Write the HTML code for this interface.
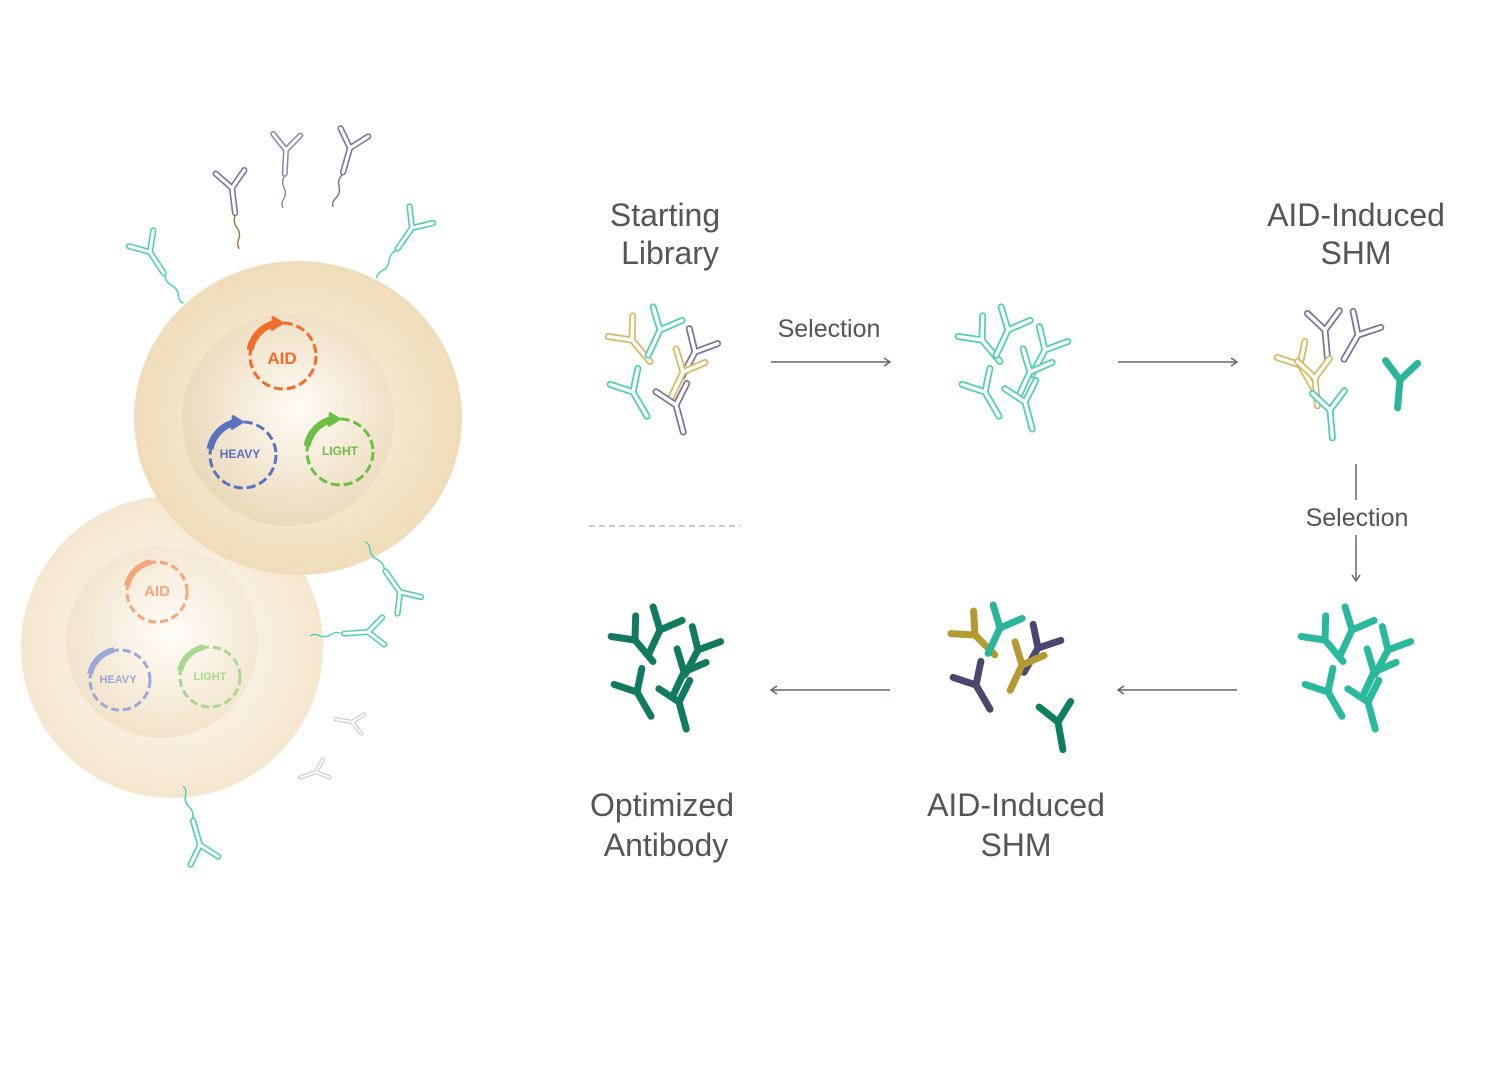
<!DOCTYPE html>
<html><head><meta charset="utf-8"><style>
html,body{margin:0;padding:0;background:#fff;}
svg{display:block;}
text{font-family:"Liberation Sans","DejaVu Sans",sans-serif;}
</style></head><body>
<svg width="1500" height="1085" viewBox="0 0 1500 1085" xmlns="http://www.w3.org/2000/svg">
<defs>
<path id="y" d="M0,0 L-16,-18 M0,0 L16,-18 M0,0 L0,28" fill="none" stroke-linecap="round"/>
<radialGradient id="cellG" cx="0.5" cy="0.5" r="0.5">
<stop offset="0.6" stop-color="#f5e6cc"/><stop offset="1" stop-color="#f0dcb9"/></radialGradient>
<radialGradient id="nucG" cx="0.55" cy="0.45" r="0.55">
<stop offset="0" stop-color="#fffcf6"/><stop offset="1" stop-color="#ecd9bb"/></radialGradient>
<radialGradient id="cell2G" cx="0.5" cy="0.5" r="0.5">
<stop offset="0.6" stop-color="#f9efdf"/><stop offset="1" stop-color="#f5e6cf"/></radialGradient>
<radialGradient id="nuc2G" cx="0.55" cy="0.45" r="0.55">
<stop offset="0" stop-color="#fffdf9"/><stop offset="1" stop-color="#f2e3cb"/></radialGradient>
<marker id="ah" markerWidth="10" markerHeight="10" refX="8" refY="5" orient="auto" markerUnits="userSpaceOnUse">
<path d="M2,1 L8,5 L2,9" fill="none" stroke="#5e6a72" stroke-width="1.5"/></marker>
<g id="o"><use href="#y" stroke-width="7"/><use href="#y" stroke="#fff" stroke-width="3.5"/></g>
<path id="tail" d="M0,30 q-4,8 0,14 q4,8 0,14 q-3,6 0,10" fill="none" stroke-width="1.6"/>
</defs>

<!-- small cell -->
<circle cx="172" cy="647" r="151" fill="url(#cell2G)"/>
<circle cx="162" cy="642" r="96" fill="url(#nuc2G)"/>
<!-- big cell -->
<ellipse cx="298" cy="418" rx="164" ry="157" fill="url(#cellG)"/>
<circle cx="288" cy="420" r="106" fill="url(#nucG)"/>

<!-- gene rings -->
<g fill="none" stroke-width="3">
<g stroke="#f26d2b"><circle cx="283" cy="356" r="33" stroke-dasharray="9 4"/><path d="M250,350 A34,34 0 0 1 276,323" stroke-width="7"/><path d="M272,317 L282,323 L271,330" fill="#f26d2b"/></g>
<g stroke="#5a72c0"><circle cx="243" cy="455" r="33" stroke-dasharray="9 4"/><path d="M210,449 A34,34 0 0 1 236,422" stroke-width="7"/><path d="M232,416 L242,422 L231,429" fill="#5a72c0"/></g>
<g stroke="#6cbf45"><circle cx="340" cy="452" r="33" stroke-dasharray="9 4"/><path d="M307,446 A34,34 0 0 1 333,419" stroke-width="7"/><path d="M329,413 L339,419 L328,426" fill="#6cbf45"/></g>
<g stroke="#f7a57a"><circle cx="157" cy="592" r="30" stroke-dasharray="8 4"/><path d="M127,586 A31,31 0 0 1 151,562" stroke-width="6"/></g>
<g stroke="#9ba8d8"><circle cx="120" cy="680" r="30" stroke-dasharray="8 4"/><path d="M90,674 A31,31 0 0 1 114,650" stroke-width="6"/></g>
<g stroke="#a8d88f"><circle cx="210" cy="677" r="30" stroke-dasharray="8 4"/><path d="M180,671 A31,31 0 0 1 204,647" stroke-width="6"/></g>
</g>
<g font-weight="bold" text-anchor="middle">
<text x="282" y="364" font-size="17" fill="#f26d2b">AID</text>
<text x="240" y="458" font-size="12" fill="#5a72c0">HEAVY</text>
<text x="340" y="455" font-size="12" fill="#6cbf45">LIGHT</text>
<text x="157" y="596" font-size="15" fill="#f7a57a">AID</text>
<text x="118" y="683" font-size="11" fill="#9ba8d8">HEAVY</text>
<text x="210" y="680" font-size="11" fill="#a8d88f">LIGHT</text>
</g>

<!-- membrane antibodies -->
<g>
<g transform="translate(232,188) rotate(-7) scale(0.9)"><use href="#o" stroke="#7a7499"/><use href="#tail" stroke="#9b7a4d"/></g>
<g transform="translate(286,150) rotate(3) scale(0.85)"><use href="#o" stroke="#8a86a8"/><use href="#tail" stroke="#8a86a8"/></g>
<g transform="translate(350,148) rotate(16) scale(0.9)"><use href="#o" stroke="#7a7499"/><use href="#tail" stroke="#7a7499"/></g>
<g transform="translate(150,252) rotate(-33) scale(0.9)"><use href="#o" stroke="#4dcfb0"/><use href="#tail" stroke="#4dcfb0"/></g>
<g transform="translate(412,228) rotate(35) scale(0.9)"><use href="#o" stroke="#4dcfb0"/><use href="#tail" stroke="#4dcfb0"/></g>
<g transform="translate(400,592) rotate(145) scale(0.9)"><use href="#o" stroke="#4dcfb0"/><use href="#tail" stroke="#4dcfb0"/></g>
<g transform="translate(368,632) rotate(86) scale(0.85)"><use href="#o" stroke="#4dcfb0"/><use href="#tail" stroke="#4dcfb0"/></g>
<g transform="translate(200,845) rotate(164) scale(0.9)"><use href="#o" stroke="#4dcfb0"/><use href="#tail" stroke="#4dcfb0"/></g>
<use href="#o" stroke="#c8c8d0" transform="translate(352,722) rotate(100) scale(0.6)"/>
<use href="#o" stroke="#c8c8d0" transform="translate(316,772) rotate(70) scale(0.6)"/>
</g>

<!-- cluster 1: starting library -->
<g>
<use href="#o" stroke="#d6b960" transform="translate(632,340) rotate(-40)"/>
<use href="#o" stroke="#4dcfb0" transform="translate(660,330) rotate(25)"/>
<use href="#o" stroke="#7a7499" transform="translate(695,352) rotate(28)"/>
<use href="#o" stroke="#d6b960" transform="translate(683,372) rotate(25)"/>
<use href="#o" stroke="#4dcfb0" transform="translate(633,392) rotate(-30)"/>
<use href="#o" stroke="#7a7499" transform="translate(676,405) rotate(-15)"/>
</g>
<!-- cluster 2 -->
<g stroke="#4dcfb0">
<use href="#o" transform="translate(982,340) rotate(-40)"/>
<use href="#o" transform="translate(1008,330) rotate(25)"/>
<use href="#o" transform="translate(1045,350) rotate(28)"/>
<use href="#o" transform="translate(1030,372) rotate(25)"/>
<use href="#o" transform="translate(985,392) rotate(-30)"/>
<use href="#o" transform="translate(1025,402) rotate(-15)"/>
</g>
<!-- cluster 3 -->
<g>
<use href="#o" stroke="#7a7499" transform="translate(1325,330) rotate(-5)"/>
<use href="#o" stroke="#7a7499" transform="translate(1358,335) rotate(30)"/>
<use href="#o" stroke="#d6b960" transform="translate(1300,365) rotate(-30)"/>
<use href="#o" stroke="#d6b960" transform="translate(1315,378) rotate(-5)"/>
<use href="#o" stroke="#4dcfb0" transform="translate(1330,410) rotate(-5)"/>
<use href="#y" stroke="#2ab59a" stroke-width="7" transform="translate(1400,380) rotate(5)"/>
</g>
<!-- cluster 4 -->
<g stroke="#2ab99d" stroke-width="7">
<use href="#y" transform="translate(1325,640) rotate(-40)"/>
<use href="#y" transform="translate(1352,630) rotate(25)"/>
<use href="#y" transform="translate(1388,650) rotate(28)"/>
<use href="#y" transform="translate(1374,672) rotate(25)"/>
<use href="#y" transform="translate(1328,692) rotate(-30)"/>
<use href="#y" transform="translate(1368,702) rotate(-15)"/>
</g>
<!-- cluster 5 -->
<g stroke-width="7">
<use href="#y" stroke="#b59a32" transform="translate(975,635) rotate(-45)"/>
<use href="#y" stroke="#2ab59a" transform="translate(1000,628) rotate(25)"/>
<use href="#y" stroke="#4a4670" transform="translate(1038,648) rotate(30)"/>
<use href="#y" stroke="#b59a32" transform="translate(1022,665) rotate(25)"/>
<use href="#y" stroke="#4a4670" transform="translate(976,685) rotate(-30)"/>
<use href="#y" stroke="#0f7f62" transform="translate(1058,722) rotate(-10)"/>
</g>
<!-- cluster 6 -->
<g stroke="#117a5f" stroke-width="7">
<use href="#y" transform="translate(635,640) rotate(-40)"/>
<use href="#y" transform="translate(660,630) rotate(25)"/>
<use href="#y" transform="translate(698,650) rotate(28)"/>
<use href="#y" transform="translate(684,672) rotate(25)"/>
<use href="#y" transform="translate(637,692) rotate(-30)"/>
<use href="#y" transform="translate(679,702) rotate(-15)"/>
</g>

<!-- arrows -->
<g stroke="#5e6a72" stroke-width="1.5" fill="none">
<line x1="771" y1="362" x2="890" y2="362" marker-end="url(#ah)"/>
<line x1="1118" y1="362" x2="1237" y2="362" marker-end="url(#ah)"/>
<line x1="1356" y1="464" x2="1356" y2="500"/>
<line x1="1356" y1="535" x2="1356" y2="581" marker-end="url(#ah)"/>
<line x1="890" y1="690" x2="771" y2="690" marker-end="url(#ah)"/>
<line x1="1237" y1="690" x2="1118" y2="690" marker-end="url(#ah)"/>
</g>
<line x1="589" y1="526" x2="740" y2="526" stroke="#bbb" stroke-width="1.5" stroke-dasharray="6 4"/>

<!-- labels -->
<g fill="#555" text-anchor="middle" font-size="32">
<text x="665" y="226">Starting</text>
<text x="670" y="264">Library</text>
<text x="1356" y="226">AID-Induced</text>
<text x="1356" y="264">SHM</text>
<text x="662" y="816">Optimized</text>
<text x="666" y="856">Antibody</text>
<text x="1016" y="816">AID-Induced</text>
<text x="1016" y="856">SHM</text>
</g>
<g fill="#555" text-anchor="middle" font-size="25">
<text x="829" y="337">Selection</text>
<text x="1357" y="526">Selection</text>
</g>
</svg>
</body></html>
